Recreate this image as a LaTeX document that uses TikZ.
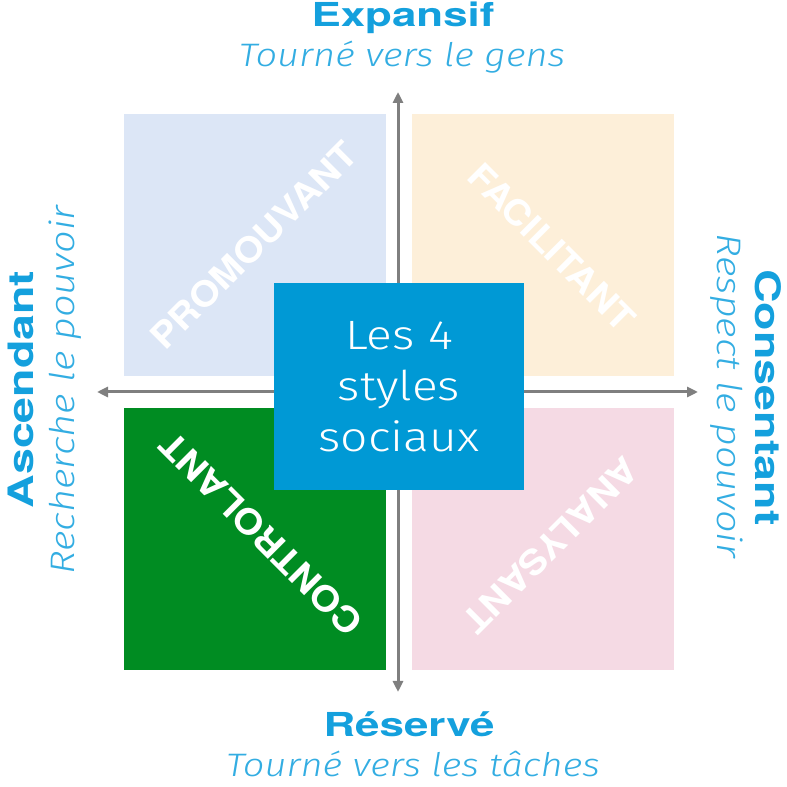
\documentclass[tikz,border=0pt]{standalone}
\usepackage{fontspec}
\usepackage{tikz}
\usetikzlibrary{arrows.meta}
\newfontfamily\headfont{TeX Gyre Heros}[FakeStretch=1.33]
\newfontfamily\boldfont{TeX Gyre Heros}[FakeStretch=1.1]
\newfontfamily\lightfont{Fira Sans Light}[ItalicFont={Fira Sans Light Italic}, FakeStretch=1.17]
\definecolor{titleblue}{HTML}{14A0DD}
\definecolor{subblue}{HTML}{33ADE2}
\definecolor{promblue}{HTML}{DCE6F6}
\definecolor{facorange}{HTML}{FDEFD9}
\definecolor{ctrlgreen}{HTML}{008C22}
\definecolor{anapink}{HTML}{F5DAE4}
\definecolor{centreblue}{HTML}{0099D5}
\definecolor{axisgray}{HTML}{7F7F7F}

\begin{document}
\begin{tikzpicture}[x=1pt, y=1pt,
    quadbox/.style={rectangle, minimum width=262pt, minimum height=262pt, inner sep=0pt},
    quadlabel/.style={text=white, font=\boldfont\bfseries\fontsize{35}{35}\selectfont},
    axis/.style={draw=axisgray, line width=3pt, {Triangle[length=11pt,width=10pt]}-{Triangle[length=11pt,width=10pt]}},
    headtitle/.style={text=titleblue, font=\headfont\bfseries\fontsize{#1}{#1}\selectfont, anchor=base},
    headtitle/.default=33,
    subtitle/.style={text=subblue, font=\lightfont\itshape\fontsize{#1}{#1}\selectfont, anchor=base},
    subtitle/.default=32.5]
    \useasboundingbox (0,0) rectangle (787,787);
    % Place quadrants
    \node [quadbox, fill=promblue] (P) at (255,541.5) {};
    \node [quadbox, fill=facorange] (F) at (542.5,541.5) {};
    \node [quadbox, fill=ctrlgreen] (C) at (255,248) {};
    \node [quadbox, fill=anapink] (A) at (542.5,248) {};
    % Axes
    \coordinate (N) at (398,695);
    \coordinate (S) at (398,95);
    \coordinate (W) at (97,395);
    \coordinate (E) at (698,395);
    \path [axis] (S) -- (N);
    \path [axis] (W) -- (E);
    % Quadrant labels
    \node [quadlabel, rotate=45] (PL) at (254,542) {PROMOUVANT};
    \node [quadlabel, rotate=-45] (FL) at (552,540) {FACILITANT};
    \node [quadlabel, rotate=135] (CL) at (261,253) {CONTROLANT};
    \node [quadlabel, rotate=225] (AL) at (551,242) {ANALYSANT};
    % Centre box
    \node [rectangle, fill=centreblue, minimum width=250pt, minimum height=207pt, text=white, align=center, font=\lightfont\fontsize{41}{51}\selectfont] (M) at (399,400.5) {Les 4\\styles\\sociaux};
    % Axis titles
    \node [headtitle] (Exp) at (403,760) {Expansif};
    \node [subtitle] (ExpS) at (402,720) {Tourné vers le gens};
    \node [headtitle] (Res) at (409,50) {Réservé};
    \node [subtitle] (ResS) at (413,10) {Tourné vers les tâches};
    \node [headtitle=35, rotate=90] (Asc) at (33,397.5) {Ascendant};
    \node [subtitle=34, rotate=90] (AscS) at (74,397) {Recherche le pouvoir};
    \node [headtitle=35, rotate=-90] (Con) at (755,389.5) {Consentant};
    \node [subtitle=34, rotate=-90] (ConS) at (717,391) {Respect le pouvoir};
\end{tikzpicture}
\end{document}
